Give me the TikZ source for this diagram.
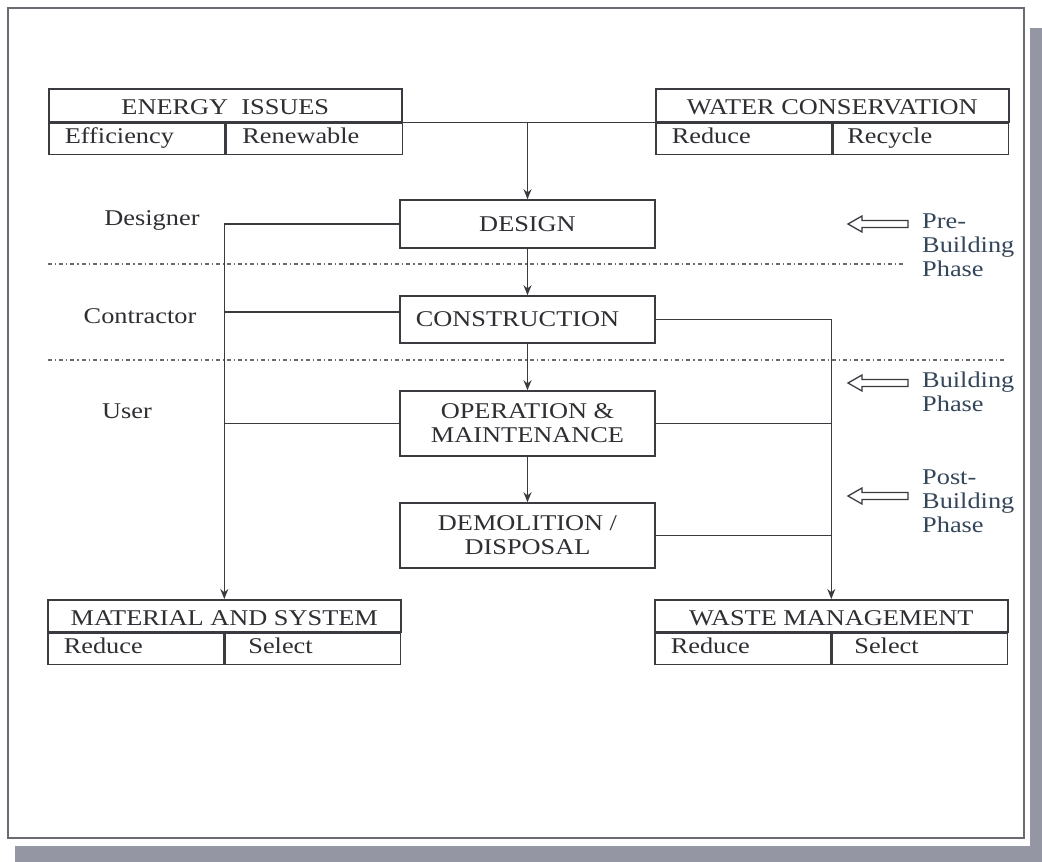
\documentclass[tikz,border=0pt]{standalone}
\usepackage{fontspec}
\setmainfont{Liberation Serif}[FakeStretch=1.17]
\usetikzlibrary{arrows.meta}
\definecolor{ink}{HTML}{2E2E33}
\definecolor{linec}{HTML}{3A3A40}
\definecolor{framec}{HTML}{6A6A72}
\definecolor{shadowc}{HTML}{9497A3}
\definecolor{phasec}{HTML}{34465A}
\begin{document}
\begin{tikzpicture}[x=1pt,y=-1pt,
  txt/.style={font=\fontsize{22.5}{24}\selectfont, text=ink},
  tbox/.style={txt, draw=linec, line width=1.6pt, inner sep=0pt, minimum height=33pt, text height=19pt, text depth=0pt, anchor=north west},
  cell/.style={txt, draw=linec, line width=1.6pt, inner xsep=16pt, inner ysep=0pt, minimum height=31pt, text height=15pt, text depth=5pt, align=left, anchor=north west},
  mbox/.style={txt, draw=linec, line width=1.6pt, minimum width=255pt, align=center, inner sep=0pt},
  conn/.style={draw=linec, line width=1.4pt},
  arr/.style={conn, -{Stealth[length=10pt,width=8pt]}},
  role/.style={txt},
  phase/.style={txt, text=phasec, align=left, anchor=west, inner sep=0pt},
  sep/.style={draw=framec, line width=1.2pt, dash pattern=on 4pt off 3pt on 1.2pt off 3pt},
  parrow/.style={draw=linec, line width=1.3pt, fill=white, line join=miter}
]
\useasboundingbox (0,0) rectangle (1042,862);
% shadow and frame
\fill[shadowc] (1030,28) rectangle (1042,862);
\fill[shadowc] (15,846) rectangle (1042,862);
\draw[framec, line width=1.6pt, fill=white] (8,8) rectangle (1024,838);

% ENERGY ISSUES
\node[tbox, minimum width=353pt] (et) at (48,88) {ENERGY\ \ ISSUES};
\node[cell, text width=144pt] (e1) at (et.south west) {Efficiency};
\node[cell, text width=144pt] (e2) at (e1.north east) {Renewable};
% WATER CONSERVATION
\node[tbox, minimum width=353pt] (wt) at (655,88) {WATER CONSERVATION};
\node[cell, text width=144pt] (w1) at (wt.south west) {Reduce};
\node[cell, text width=147pt, inner xsep=14pt] (w2) at (w1.north east) {Recycle};
% MATERIAL AND SYSTEM
\node[tbox, minimum width=353pt, minimum height=32pt] (mt) at (47,599) {MATERIAL AND SYSTEM};
\node[cell, text width=144pt] (m1) at (mt.south west) {Reduce};
\node[cell, text width=129pt, inner xsep=23pt] (m2) at (m1.north east) {Select};
% WASTE MANAGEMENT
\node[tbox, minimum width=353pt, minimum height=32pt] (st) at (654,599) {WASTE MANAGEMENT};
\node[cell, text width=144pt] (s1) at (st.south west) {Reduce};
\node[cell, text width=131pt, inner xsep=22pt] (s2) at (s1.north east) {Select};

% central boxes
\node[mbox, minimum height=48pt] (des) at (527.5,224) {DESIGN};
\node[mbox, minimum height=47pt] (con) at (527.5,319.5) {\hspace*{-20pt}CONSTRUCTION};
\node[mbox, minimum height=65pt] (ope) at (527.5,423.5) {OPERATION \&\\MAINTENANCE};
\node[mbox, minimum height=65pt] (dem) at (527.5,535.5) {DEMOLITION /\\DISPOSAL};

% roles
\node[role] (r1) at (152,220) {Designer};
\node[role] (r2) at (140,316) {Contractor};
\node[role] (r3) at (127,411) {User};

% phase separators
\coordinate (s1a) at (48,264);
\coordinate (s1b) at (903,264);
\coordinate (s2a) at (48,360);
\coordinate (s2b) at (1005,360);
\draw[sep] (s1a) -- (s1b);
\draw[sep] (s2a) -- (s2b);

% connectors
\draw[conn] (et.south east) -- (wt.south west);
\coordinate (j) at (des.north |- et.south east);
\draw[arr] (j) -- (des.north);
\draw[arr] (des.south) -- (con.north);
\draw[arr] (con.south) -- (ope.north);
\draw[arr] (ope.south) -- (dem.north);
\draw[arr] (des.west) -| (mt.north);
\draw[conn] ([yshift=7.5pt]con.west) -- ([yshift=7.5pt]con.west -| mt.north);
\draw[conn] (ope.west) -- (ope.west -| mt.north);
\draw[arr] (con.east) -| (st.north);
\draw[conn] (ope.east) -- (ope.east -| st.north);
\draw[conn] (dem.east) -- (dem.east -| st.north);

% phase arrows and labels
\foreach \y in {224,383,496}{
  \draw[parrow] (848,\y) -- (862,\y-8) -- (862,\y-3.5) -- (908,\y-3.5) -- (908,\y+3.5) -- (862,\y+3.5) -- (862,\y+8) -- cycle;
}
\node[phase] (p1) at (922,245) {Pre-\\Building\\Phase};
\node[phase] (p2) at (922,392) {Building\\Phase};
\node[phase] (p3) at (922,501) {Post-\\Building\\Phase};
\end{tikzpicture}
\end{document}
